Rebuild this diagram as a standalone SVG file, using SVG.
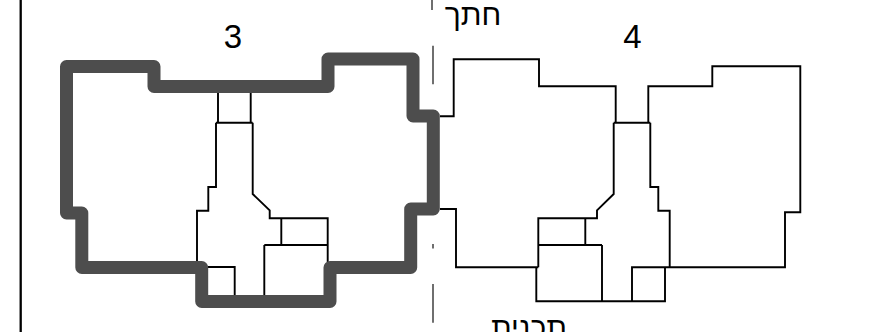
<svg xmlns="http://www.w3.org/2000/svg" width="881" height="332" viewBox="0 0 881 332">
<style>
.t{fill:none;stroke:#000;stroke-width:1.9;stroke-linejoin:miter}
.f{fill:none;stroke:#000;stroke-width:2.3}
.w{fill:none;stroke:#4d4d4d;stroke-width:13;stroke-linejoin:round}
.d{fill:none;stroke:#333;stroke-width:1.4}
text{font-family:"Liberation Sans",Arial,sans-serif;fill:#000;text-anchor:middle}
</style>
<rect width="881" height="332" fill="#fff"/>
<g id="frame"><line class="f" x1="20.7" y1="0" x2="20.7" y2="332"/></g>
<g id="section-line">
<path class="d" d="M432 0V10M433 45.7V84.3M433 244V248.5M433 284V322.7"/>
</g>
<g id="unit-3">
<path class="t" d="M218 93V122.7M250.7 93V122.7M216 122.7H252.7M216 122.7V187H208.3V210.7H197V262M252.7 122.7V194L269.7 210.3V218.3H327.7V262M264.3 245H327.7M281.3 218.3V245M264.3 245V295M208 267H234.7V295"/>
<path class="w" d="M66.5 66.5H154V86.5H328V59H413V116H433.3V209H410.7V267.5H330V301.5H201.7V267.5H81.8V213H66.5Z"/>
</g>
<g id="unit-4">
<path class="t" d="M440 116.3H453.7V59.3H539V86.3H615.7V122.7M613.7 122.7H650.3M648.3 122.7V86.3H712.3V66.3H800.3V212.3H785V267.3H665M669.7 267.3V210.7H658.3V187H650.3V122.7M613.7 122.7V194L597 210.3V218.3H538.3V267.3M538.3 245H602M585.3 218.3V245M602 245V301.3M536.3 267.3V301.3H665V267.3H632V301.3M440 209H456V267.3H538.3"/>
</g>
<g id="labels">
<text x="233" y="48" font-size="33">3</text>
<text x="632.5" y="48" font-size="33">4</text>
<text x="473" y="25" font-size="30" direction="rtl">חתך</text>
<text x="529" y="338" font-size="30" direction="rtl">תכנית</text>
</g>
</svg>
